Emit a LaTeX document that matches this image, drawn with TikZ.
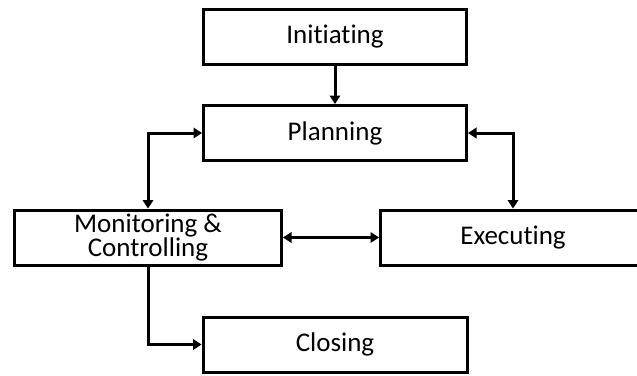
\documentclass[tikz,border=0pt]{standalone}
\usepackage{fontspec}
\setmainfont{Carlito}[Ligatures=CommonOff]
\usetikzlibrary{arrows.meta}
\begin{document}
\begin{tikzpicture}[x=1pt,y=-1pt,
  phase/.style={draw=black, line width=3pt, fill=white, align=center,
    minimum height=55pt, inner sep=0pt,
    font=\fontsize{27}{24.5}\selectfont},
  link/.style={line width=3pt, -{Triangle[length=8.5pt,width=10.5pt]}},
  duplex/.style={line width=3pt, {Triangle[length=8.5pt,width=10.5pt]}-{Triangle[length=8.5pt,width=10.5pt]}}]
  \useasboundingbox (0,0) rectangle (637,375);
  \node[phase, minimum width=263pt] (init) at (335,37) {Initiating};
  \node[phase, minimum width=263pt] (plan) at (335,133) {Planning};
  \node[phase, minimum width=267pt] (mc) at (148,237.5) {Monitoring \&\\Controlling};
  \node[phase, minimum width=265pt] (exec) at (513,237.5) {Executing};
  \node[phase, minimum width=264pt] (close) at (335,344.5) {Closing};
  \draw[link] (init.south) -- (plan.north);
  \draw[duplex] (mc.north) |- (plan.west);
  \draw[duplex] (plan.east) -| (exec.north);
  \draw[duplex] (mc.east) -- (exec.west);
  \draw[link] (mc.south) |- (close.west);
\end{tikzpicture}
\end{document}
